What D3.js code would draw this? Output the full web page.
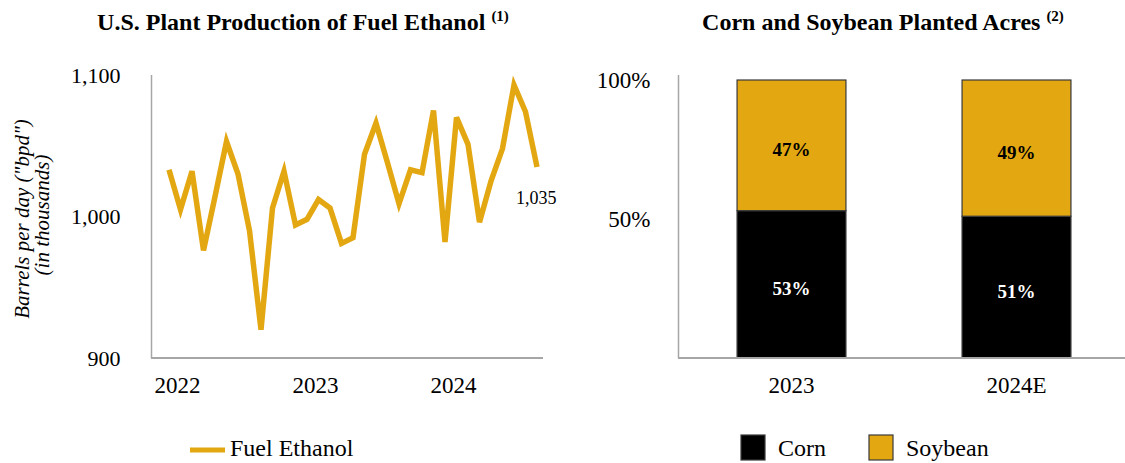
<!DOCTYPE html>
<html>
<head>
	<meta http-equiv="Content-Type" content="text/html; charset=utf-8"/>
	<title>Ethanol y Acres</title>
	<style>
		body { margin: 0; background: #fff; }
		svg text { font-family: "Liberation Serif", "Times New Roman", serif; fill: #000; }
	</style>
</head>
<body>
	<svg width="1125" height="463" id="viz"></svg>

	<script src="https://d3js.org/d3.v7.min.js"></script>
	<script>

		// Datos: produccion mensual (miles de bpd), ene-2022 a sep-2024
		var meses = ["2022-01","2022-02","2022-03","2022-04","2022-05","2022-06","2022-07","2022-08","2022-09","2022-10","2022-11","2022-12",
		             "2023-01","2023-02","2023-03","2023-04","2023-05","2023-06","2023-07","2023-08","2023-09","2023-10","2023-11","2023-12",
		             "2024-01","2024-02","2024-03","2024-04","2024-05","2024-06","2024-07","2024-08","2024-09"];
		var etanol = [1033, 1005, 1032, 976, 1014, 1053, 1030, 990, 920, 1006, 1032, 994,
		              998, 1012, 1006, 981, 985, 1044, 1066, 1038, 1009, 1033, 1031, 1075,
		              982, 1070, 1051, 996, 1025, 1048, 1093, 1074, 1035];
		var ticks_anio = ["2022-01", "2023-01", "2024-01"];
		var etiquetas_anio = ["2022", "2023", "2024"];
		var ticks_y = [900, 1000, 1100];

		// Datos: acres sembrados
		var anios = ["2023", "2024E"];
		var maiz = [0.53, 0.51];
		var soya = [0.47, 0.49];
		var ticks_pct = [0.5, 1];

		const dorado = "#E3A712", gris = "#A6A6A6";
		var svg = d3.select("#viz");

		// ---------- Grafica izquierda ----------
		const x = d3.scalePoint().domain(meses).range([169, 537]);
		const y = d3.scaleLinear().domain([900, 1100]).range([358, 75]);

		svg.append("text")
			.attr("x", 303).attr("y", 30)
			.attr("text-anchor", "middle")
			.style("font-size", "24px").style("font-weight", "bold")
			.text("U.S. Plant Production of Fuel Ethanol ")
			.append("tspan").attr("dy", -9).style("font-size", "15px").text("(1)");

		// eje y
		svg.append("g")
			.attr("transform", "translate(151.5,0)")
			.call(d3.axisLeft(y).tickValues(ticks_y).tickSize(0).tickPadding(31).tickFormat(d3.format(",")))
			.call(g => g.select(".domain").remove())
			.call(g => g.selectAll("text").style("font-size", "22px").attr("font-family", null));

		svg.append("line").attr("x1", 151.5).attr("x2", 151.5).attr("y1", 75).attr("y2", 358)
			.attr("stroke", gris).attr("stroke-width", 1.5);
		svg.append("line").attr("x1", 151).attr("x2", 543).attr("y1", 358).attr("y2", 358)
			.attr("stroke", gris).attr("stroke-width", 2);

		// titulo eje y
		svg.append("text")
			.attr("transform", "translate(29,219) rotate(-90)")
			.attr("text-anchor", "middle")
			.style("font-size", "21px").style("font-style", "italic")
			.text('Barrels per day ("bpd")');
		svg.append("text")
			.attr("transform", "translate(49,215) rotate(-90)")
			.attr("text-anchor", "middle")
			.style("font-size", "21px").style("font-style", "italic")
			.text("(in thousands)");

		// eje x (anios)
		svg.append("g")
			.attr("transform", "translate(8,358)")
			.call(d3.axisBottom(x).tickValues(ticks_anio).tickSize(0).tickPadding(19)
				.tickFormat((d, i) => etiquetas_anio[i]))
			.call(g => g.select(".domain").remove())
			.call(g => g.selectAll("text").style("font-size", "23px").attr("font-family", null));

		// linea
		svg.append("path")
			.datum(etanol)
			.attr("fill", "none")
			.attr("stroke", dorado)
			.attr("stroke-width", 5.5)
			.attr("stroke-linejoin", "miter")
			.attr("d", d3.line().x((d, i) => x(meses[i])).y(d => y(d)));

		// ultimo valor
		svg.append("text")
			.attr("x", x(meses[meses.length - 1]) - 21)
			.attr("y", y(etanol[etanol.length - 1]) + 37)
			.style("font-size", "18px")
			.text(d3.format(",")(etanol[etanol.length - 1]));

		// leyenda
		svg.append("line").attr("x1", 190).attr("x2", 225).attr("y1", 450).attr("y2", 450)
			.attr("stroke", dorado).attr("stroke-width", 5);
		svg.append("text").attr("x", 230).attr("y", 448).attr("dy", "0.35em")
			.style("font-size", "24px").text("Fuel Ethanol");

		// ---------- Grafica derecha ----------
		const xb = d3.scaleBand().domain(anios).range([679, 1129]).paddingInner(0.516).paddingOuter(0.258);
		const yb = d3.scaleLinear().domain([0, 1]).range([358, 80]);

		svg.append("text")
			.attr("x", 883).attr("y", 30)
			.attr("text-anchor", "middle")
			.style("font-size", "24px").style("font-weight", "bold")
			.text("Corn and Soybean Planted Acres ")
			.append("tspan").attr("dy", -9).style("font-size", "15px").text("(2)");

		svg.append("g")
			.attr("transform", "translate(678.5,0)")
			.call(d3.axisLeft(yb).tickValues(ticks_pct).tickSize(0).tickPadding(28).tickFormat(d3.format(".0%")))
			.call(g => g.select(".domain").remove())
			.call(g => g.selectAll("text").style("font-size", "23px").attr("font-family", null));

		svg.append("g")
			.attr("transform", "translate(0,358)")
			.call(d3.axisBottom(xb).tickSize(0).tickPadding(19))
			.call(g => g.select(".domain").remove())
			.call(g => g.selectAll("text").style("font-size", "23px").attr("font-family", null));

		// barras apiladas
		var filas = anios.map((a, i) => ({anio: a, corn: maiz[i], soy: soya[i]}));
		var series = d3.stack().keys(["corn", "soy"])(filas);
		const color = d3.scaleOrdinal().domain(["corn", "soy"]).range(["#000000", dorado]);

		var capas = svg.append("g").selectAll("g")
			.data(series).join("g")
			.attr("fill", d => color(d.key));

		capas.selectAll("rect")
			.data(d => d).join("rect")
			.attr("x", d => xb(d.data.anio))
			.attr("y", d => yb(d[1]))
			.attr("width", xb.bandwidth())
			.attr("height", d => yb(d[0]) - yb(d[1]))
			.attr("stroke", "#3a3a3a")
			.attr("stroke-width", 1.2);

		capas.selectAll("text")
			.data(d => d.map(v => Object.assign({key: d.key}, v))).join("text")
			.attr("x", d => xb(d.data.anio) + xb.bandwidth() / 2)
			.attr("y", d => (yb(d[0]) + yb(d[1])) / 2 + 4)
			.attr("dy", "0.35em")
			.attr("text-anchor", "middle")
			.style("font-size", "19px").style("font-weight", "bold")
			.style("fill", d => d.key === "corn" ? "#fff" : "#000")
			.text(d => d3.format(".0%")(d[1] - d[0]));

		svg.append("line").attr("x1", 678.5).attr("x2", 678.5).attr("y1", 75).attr("y2", 358)
			.attr("stroke", gris).attr("stroke-width", 1.5);
		svg.append("line").attr("x1", 678).attr("x2", 1125).attr("y1", 358).attr("y2", 358)
			.attr("stroke", gris).attr("stroke-width", 2);

		// leyenda
		var ley = [{k: "corn", t: "Corn", x: 741}, {k: "soy", t: "Soybean", x: 869}];
		ley.forEach(function(l) {
			svg.append("rect").attr("x", l.x).attr("y", 435).attr("width", 24).attr("height", 25)
				.attr("fill", color(l.k)).attr("stroke", "#3a3a3a").attr("stroke-width", 1.2);
			svg.append("text").attr("x", l.x + 37).attr("y", 447.5).attr("dy", "0.35em")
				.style("font-size", "24px").text(l.t);
		});
	</script>
</body>
</html>
